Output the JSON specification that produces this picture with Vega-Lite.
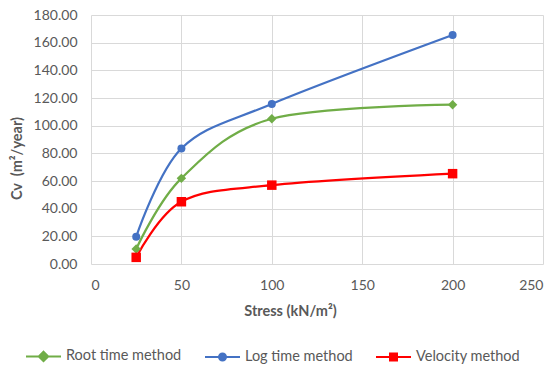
{
  "$schema": "https://vega.github.io/schema/vega-lite/v6.json",
  "width": 452,
  "height": 249,
  "autosize": {"type": "none"},
  "padding": {"left": 91, "top": 15, "right": 14, "bottom": 103},
  "background": "white",
  "config": {
    "font": "Lato",
    "view": {"stroke": null},
    "axis": {
      "labelFont": "Lato",
      "labelFontSize": 14,
      "labelColor": "#595959",
      "titleFont": "Lato",
      "titleFontSize": 14.5,
      "titleFontWeight": "bold",
      "titleColor": "#595959",
      "gridColor": "#d9d9d9",
      "gridWidth": 1,
      "domain": false,
      "ticks": false
    }
  },
  "data": {
    "values": [
      {"series": "Root time method", "stress": 25, "cv": 10.8},
      {"series": "Root time method", "stress": 50, "cv": 61.9},
      {"series": "Root time method", "stress": 100, "cv": 105.0},
      {"series": "Root time method", "stress": 200, "cv": 115.2},
      {"series": "Log time method", "stress": 25, "cv": 19.7},
      {"series": "Log time method", "stress": 50, "cv": 83.5},
      {"series": "Log time method", "stress": 100, "cv": 115.7},
      {"series": "Log time method", "stress": 200, "cv": 165.5},
      {"series": "Velocity method", "stress": 25, "cv": 4.8},
      {"series": "Velocity method", "stress": 50, "cv": 45.0},
      {"series": "Velocity method", "stress": 100, "cv": 57.0},
      {"series": "Velocity method", "stress": 200, "cv": 65.3}
    ]
  },
  "encoding": {
    "x": {
      "field": "stress",
      "type": "quantitative",
      "scale": {"domain": [0, 250], "nice": false},
      "axis": {
        "values": [0, 50, 100, 150, 200, 250],
        "title": "Stress (kN/m²)",
        "labelPadding": 14,
        "titlePadding": 12,
        "titleX": 199
      }
    },
    "y": {
      "field": "cv",
      "type": "quantitative",
      "scale": {"domain": [0, 180], "nice": false},
      "axis": {
        "values": [0, 20, 40, 60, 80, 100, 120, 140, 160, 180],
        "format": ".2f",
        "title": "Cv\u00a0 (m²/year)",
        "labelPadding": 14,
        "titlePadding": 9,
        "titleY": 143
      }
    },
    "color": {
      "field": "series",
      "type": "nominal",
      "scale": {
        "domain": ["Root time method", "Log time method", "Velocity method"],
        "range": ["#70AD47", "#4472C4", "#FF0000"]
      },
      "legend": {
        "orient": "none",
        "legendX": -66,
        "legendY": 322.5,
        "direction": "horizontal",
        "title": null,
        "labelFont": "Lato",
        "labelFontSize": 14.5,
        "labelColor": "#595959",
        "labelOffset": 4,
        "columnPadding": 19,
        "symbolSize": 1225,
        "symbolStrokeWidth": 2,
        "encode": {
          "symbols": {
            "update": {
              "shape": {"signal": "datum.value === 'Root time method' ? 'M-1,0H1M0,-0.27L0.27,0L0,0.27L-0.27,0Z' : datum.value === 'Log time method' ? 'M-1,0H1M0.2,0A0.2,0.2,0,1,1,-0.2,0A0.2,0.2,0,1,1,0.2,0Z' : 'M-1,0H1M-0.2,-0.2H0.2V0.2H-0.2Z'"},
              "size": {"value": 1225},
              "fill": {"scale": "color", "field": "value"},
              "stroke": {"scale": "color", "field": "value"},
              "strokeWidth": {"value": 2},
              "opacity": {"value": 1}
            }
          }
        }
      }
    }
  },
  "layer": [
    {"mark": {"type": "line", "interpolate": "cardinal", "strokeWidth": 2.25}},
    {
      "transform": [{"filter": "datum.series === 'Root time method'"}],
      "mark": {"type": "point", "shape": "diamond", "filled": true, "opacity": 1, "size": 90}
    },
    {
      "transform": [{"filter": "datum.series === 'Log time method'"}],
      "mark": {"type": "point", "shape": "circle", "filled": true, "opacity": 1, "size": 64}
    },
    {
      "transform": [{"filter": "datum.series === 'Velocity method'"}],
      "mark": {"type": "point", "shape": "square", "filled": true, "opacity": 1, "size": 90}
    }
  ]
}
